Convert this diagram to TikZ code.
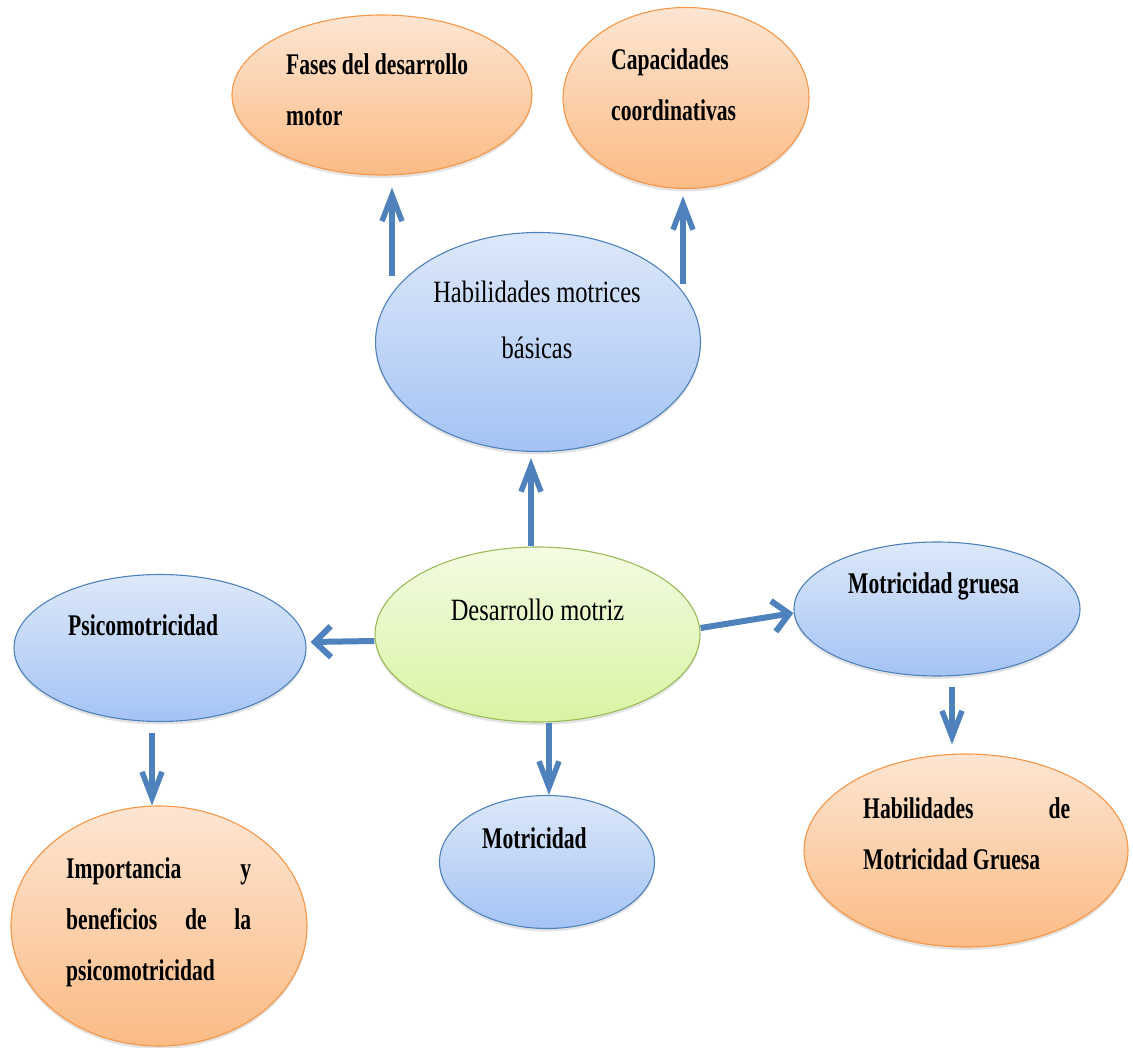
\documentclass[tikz,border=0pt]{standalone}
\usepackage{fontspec}
\setmainfont{Liberation Serif}
\newfontfamily\regc[FakeStretch=0.79]{Liberation Serif}
\newfontfamily\boldc[FakeStretch=0.72]{Liberation Serif}
\usetikzlibrary{arrows.meta,shapes.geometric,shadows}
\definecolor{arrowblue}{HTML}{4F81BD}
\definecolor{orgline}{HTML}{F79646}
\definecolor{orgtop}{HTML}{FDE5D2}
\definecolor{orgbot}{HTML}{FBBB85}
\definecolor{blueline}{HTML}{4F81BD}
\definecolor{bluetop}{HTML}{DDE8FA}
\definecolor{bluebot}{HTML}{A4C3F4}
\definecolor{greenline}{HTML}{9BBB59}
\definecolor{greentop}{HTML}{F3FBE2}
\definecolor{greenbot}{HTML}{D8F4A3}
\begin{document}
\begin{tikzpicture}[x=1pt,y=-1pt,
  bub/.style={ellipse, inner sep=0pt, line width=1.1pt,
    drop shadow={shadow xshift=0pt,shadow yshift=-3pt,opacity=0.22}},
  orangeb/.style={bub, draw=orgline, top color=orgtop, bottom color=orgbot},
  blueb/.style={bub, draw=blueline, top color=bluetop, bottom color=bluebot},
  greenb/.style={bub, draw=greenline, top color=greentop, bottom color=greenbot},
  boldtxt/.style={inner sep=0pt, align=left, font=\boldc\bfseries\fontsize{30}{51}\selectfont},
  regtxt/.style={inner sep=0pt, align=center, font=\regc\fontsize{31}{56}\selectfont},
  varr/.style={line width=5.5pt, draw=arrowblue, -{Straight Barb[length=26pt,width=20pt]}},
  harr/.style={line width=6pt, draw=arrowblue, -{Straight Barb[length=16pt,width=31pt]}}
]
\useasboundingbox (0,0) rectangle (1133,1048);

% ellipses
\node[orangeb, minimum width=300pt, minimum height=160pt] (fases) at (382,95) {};
\node[orangeb, minimum width=246pt, minimum height=181pt] (capac) at (686,98) {};
\node[blueb, minimum width=325pt, minimum height=219pt] (hmb) at (538,342) {};
\node[greenb, minimum width=325pt, minimum height=175pt] (dm) at (537.5,634.5) {};
\node[blueb, minimum width=292pt, minimum height=147pt] (psico) at (160,648) {};
\node[blueb, minimum width=286pt, minimum height=134pt] (mg) at (937,609) {};
\node[blueb, minimum width=215pt, minimum height=133pt] (mot) at (547,862) {};
\node[orangeb, minimum width=296pt, minimum height=240pt] (imp) at (159,926) {};
\node[orangeb, minimum width=324pt, minimum height=193pt] (hmg) at (966,850.5) {};

% texts
\node[boldtxt, anchor=north west] (tfases) at (286,53) {Fases del desarrollo\\motor};
\node[boldtxt, anchor=north west] (tcapac) at (611,48) {Capacidades\\coordinativas};
\node[regtxt, anchor=north] (thmb) at (537,281) {Habilidades motrices\\básicas};
\node[regtxt, anchor=base] (tdm) at (537.5,620) {Desarrollo motriz};
\node[boldtxt, anchor=base west] (tpsico) at (68,635) {Psicomotricidad};
\node[boldtxt, anchor=base west] (tmg) at (848,593) {Motricidad gruesa};
\node[boldtxt, anchor=base west] (tmot) at (482,848) {Motricidad};
\node[boldtxt, anchor=north west] (timp) at (66,857)
  {\makebox[185pt][s]{Importancia y}\\\makebox[185pt][s]{beneficios de la}\\psicomotricidad};
\node[boldtxt, anchor=north west] (thmg) at (863,797)
  {\makebox[207pt][s]{Habilidades de}\\Motricidad Gruesa};

% arrows
\draw[varr] ([xshift=10pt,yshift=-100pt]fases.south) -- ([xshift=10pt,yshift=-12pt]fases.south);
\draw[varr] ([xshift=-3pt,yshift=-95pt]capac.south) -- ([xshift=-3pt,yshift=-7pt]capac.south);
\draw[varr] ([xshift=-6.5pt]dm.north) -- ([xshift=-7pt,yshift=-6pt]hmb.south);
\draw[harr] ([yshift=-6.5pt]dm.west) -- ([xshift=4pt,yshift=6pt]psico.east);
\draw[harr] ([yshift=6.5pt]dm.east) -- ([yshift=-4pt]mg.west);
\draw[varr] ([xshift=11.5pt]dm.south) -- ([xshift=2pt]mot.north);
\draw[varr] ([xshift=-8pt,yshift=-11pt]psico.south) -- ([xshift=-7pt]imp.north);
\draw[varr] ([xshift=15pt,yshift=-10pt]mg.south) -- ([xshift=-14pt,yshift=9pt]hmg.north);
\end{tikzpicture}
\end{document}
